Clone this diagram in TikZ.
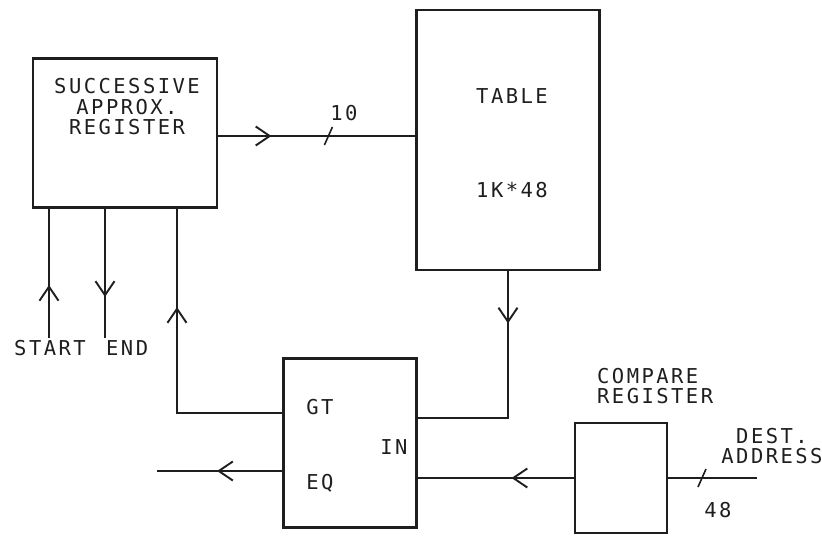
\documentclass[tikz,border=0pt]{standalone}
\usepackage{fontspec}
\usepackage{tikz}
\usetikzlibrary{arrows.meta,decorations.markings}
\newfontfamily\plotfont{DejaVu Sans Mono}[LetterSpace=12]
\definecolor{ink}{HTML}{1E1E1E}

\begin{document}
\begin{tikzpicture}[x=1pt,y=-1pt,
  box/.style={draw=ink,line width=2.8pt,inner sep=0pt},
  lbl/.style={font=\fontsize{20.5}{20.5}\selectfont\plotfont,text=ink,
    inner sep=0pt,align=center},
  wire/.style={draw=ink,line width=1.6pt},
  flow/.style={postaction={decorate,decoration={markings,
    mark=at position #1 with {\arrow{Straight Barb[length=14pt,width=19pt,line width=1.9pt]}}}}},
  bus/.style={postaction={decorate,decoration={markings,
    mark=at position #1 with {\draw[wire] (-4pt,-9pt) -- (4pt,9pt);}}}}]
\useasboundingbox (0,0) rectangle (822,536);
\node[box,minimum width=184pt,minimum height=149pt] (sar) at (125,133) {};
\node[lbl] (sartxt) at (127,107) {SUCCESSIVE\\APPROX.\\REGISTER};
\node[box,minimum width=183pt,minimum height=260pt] (tbl) at (508,140) {};
\node[lbl] (tbltxt) at (512,96) {TABLE};
\node[lbl] (tblsize) at (512,190) {1K*48};
\node[box,minimum width=133pt,minimum height=169pt] (cmp) at (350,443) {};
\node[lbl] (gt) at (320,407) {GT};
\node[lbl] (eq) at (320,483) {EQ};
\node[lbl] (in) at (394,447) {IN};
\node[box,minimum width=92pt,minimum height=110pt] (creg) at (621,478) {};
\node[lbl,anchor=west,align=left] (cregtxt) at (597,386) {COMPARE\\REGISTER};
\node[lbl] (desttxt) at (772,446) {DEST.\\ADDRESS};
\node[lbl] (w10) at (344,113) {10};
\node[lbl] (w48) at (718,510) {48};
\node[lbl] (starttxt) at (50,348) {START};
\node[lbl,anchor=west] (endtxt) at (106,348) {END};
\coordinate (startend) at (49,338);
\coordinate (endend) at (105,338);
\coordinate (eqout) at (157,471);
\coordinate (destin) at (757,478);
% register to table, 10 lines
\draw[wire,flow=53pt,bus=110pt] (sar.east |- 0,136) -- (tbl.west |- 0,136);
\draw[wire,flow=53pt] (startend) -- (startend |- sar.south);
\draw[wire,flow=88pt] (endend |- sar.south) -- (endend);
% comparator back to register
\draw[wire,flow=211pt] (cmp.west |- 0,413) -| (sar.south -| 177,0);
\draw[wire,flow=52pt] (tbl.south) |- (cmp.east |- 0,418);
\draw[wire,flow=62pt] (creg.west) -- (cmp.east |- creg.west);
\draw[wire,flow=65pt] (cmp.west |- eqout) -- (eqout);
\draw[wire,bus=55pt] (destin) -- (destin -| creg.east);
\end{tikzpicture}
\end{document}
